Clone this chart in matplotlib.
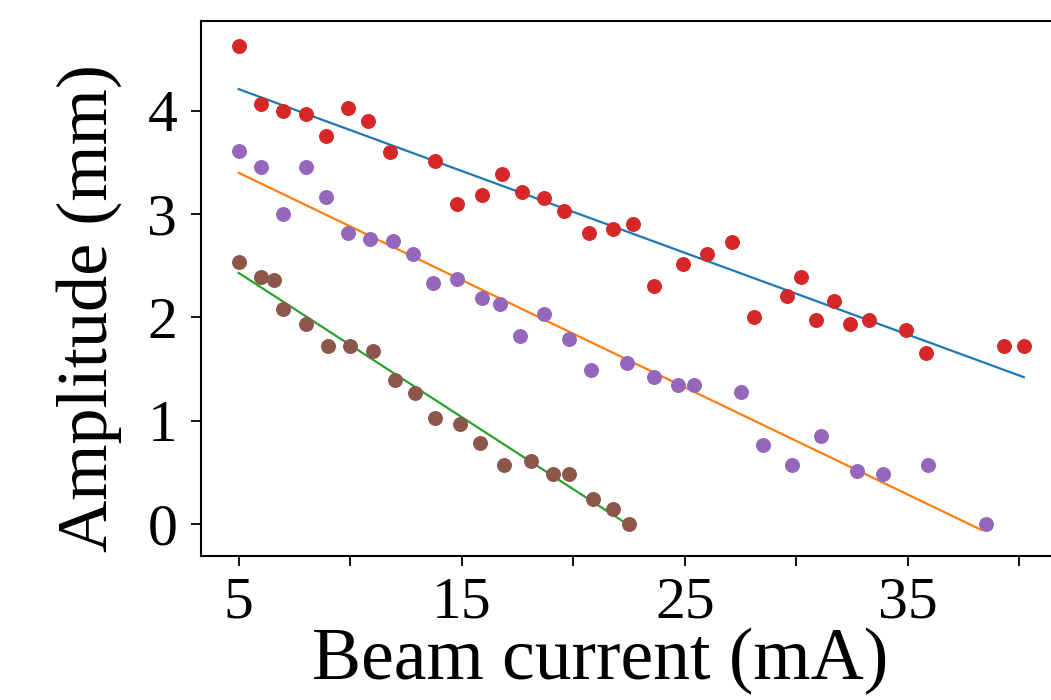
import numpy as np
import matplotlib
matplotlib.use("Agg")
import matplotlib.pyplot as plt

plt.rcParams['font.family'] = ['Liberation Serif', 'DejaVu Serif']

# red points, fitted with the blue line
red_x = [5, 6.0, 7.0, 8.0, 8.9, 9.9, 10.8, 11.8, 13.8, 14.8, 15.9, 16.8, 17.7, 18.7,
         19.6, 20.7, 21.8, 22.7, 23.6, 24.9, 26.0, 27.1, 28.1, 29.6, 30.2, 30.9,
         31.7, 32.4, 33.25, 34.9, 35.8, 39.3, 40.2]
red_y = [4.63, 4.07, 4.00, 3.97, 3.76, 4.03, 3.90, 3.60, 3.51, 3.10, 3.18, 3.39, 3.21, 3.16,
         3.03, 2.82, 2.86, 2.90, 2.30, 2.52, 2.61, 2.73, 2.00, 2.21, 2.39, 1.97,
         2.16, 1.94, 1.97, 1.88, 1.65, 1.72, 1.72]

# purple points, orange line
purple_x = [5, 6.0, 7.0, 8.0, 8.9, 9.9, 10.9, 11.9, 12.8, 13.7, 14.8, 15.9, 16.7, 17.6,
            18.7, 19.8, 20.8, 22.4, 23.6, 24.7, 25.4, 27.5, 28.5, 29.8, 31.1, 32.7,
            33.9, 35.9, 38.5]
purple_y = [3.61, 3.46, 3.00, 3.46, 3.17, 2.82, 2.76, 2.74, 2.61, 2.33, 2.37, 2.19, 2.13, 1.82,
            2.03, 1.79, 1.49, 1.56, 1.42, 1.34, 1.34, 1.28, 0.76, 0.57, 0.85, 0.51,
            0.48, 0.57, 0.00]

# brown points, green line
brown_x = [5, 6.0, 6.6, 7.0, 8.0, 9.0, 10.0, 11.0, 12.0, 12.9, 13.8, 14.9, 15.8, 16.9,
           18.1, 19.1, 19.8, 20.9, 21.8, 22.5]
brown_y = [2.54, 2.39, 2.36, 2.08, 1.94, 1.72, 1.72, 1.67, 1.39, 1.27, 1.02, 0.97, 0.78, 0.57,
           0.61, 0.48, 0.48, 0.24, 0.14, 0.00]

# fit line end points
blue_x, blue_y = [5, 40.2], [4.21, 1.42]
orange_x, orange_y = [5, 38.3], [3.40, -0.06]
green_x, green_y = [5, 22.4], [2.43, 0.0]

xticks = [5, 10, 15, 20, 25, 30, 35, 40]
xtick_labels = ['5', '', '15', '', '25', '', '35', '']
yticks = [0, 1, 2, 3, 4]

fig = plt.figure(figsize=(10.51, 7), dpi=100)
ax = fig.add_axes([0.191, 0.206, 0.832, 0.764])

ax.plot(blue_x, blue_y, color='tab:blue', lw=1.6)
ax.plot(orange_x, orange_y, color='tab:orange', lw=1.6)
ax.plot(green_x, green_y, color='tab:green', lw=1.6)
ax.scatter(red_x, red_y, color='tab:red', s=95, zorder=3)
ax.scatter(purple_x, purple_y, color='tab:purple', s=95, zorder=3)
ax.scatter(brown_x, brown_y, color='tab:brown', s=95, zorder=3)

ax.set_xlim(3.3, 42.5)
ax.set_ylim(-0.31, 4.87)
ax.set_xticks(xticks)
ax.set_xticklabels(xtick_labels)
ax.set_yticks(yticks)

for s in ax.spines.values():
    s.set_linewidth(1.5)
ax.tick_params(labelsize=43, width=1.3, length=7, pad=10)
ax.tick_params(axis='x', pad=8)
ax.set_xlabel('Beam current (mA)', fontsize=53, labelpad=-2)
ax.set_ylabel('Amplitude (mm)', fontsize=52, labelpad=18)
ax.xaxis.label.set_x(0.457)
ax.yaxis.label.set_y(0.464)

fig.savefig('out.png', dpi=100)
